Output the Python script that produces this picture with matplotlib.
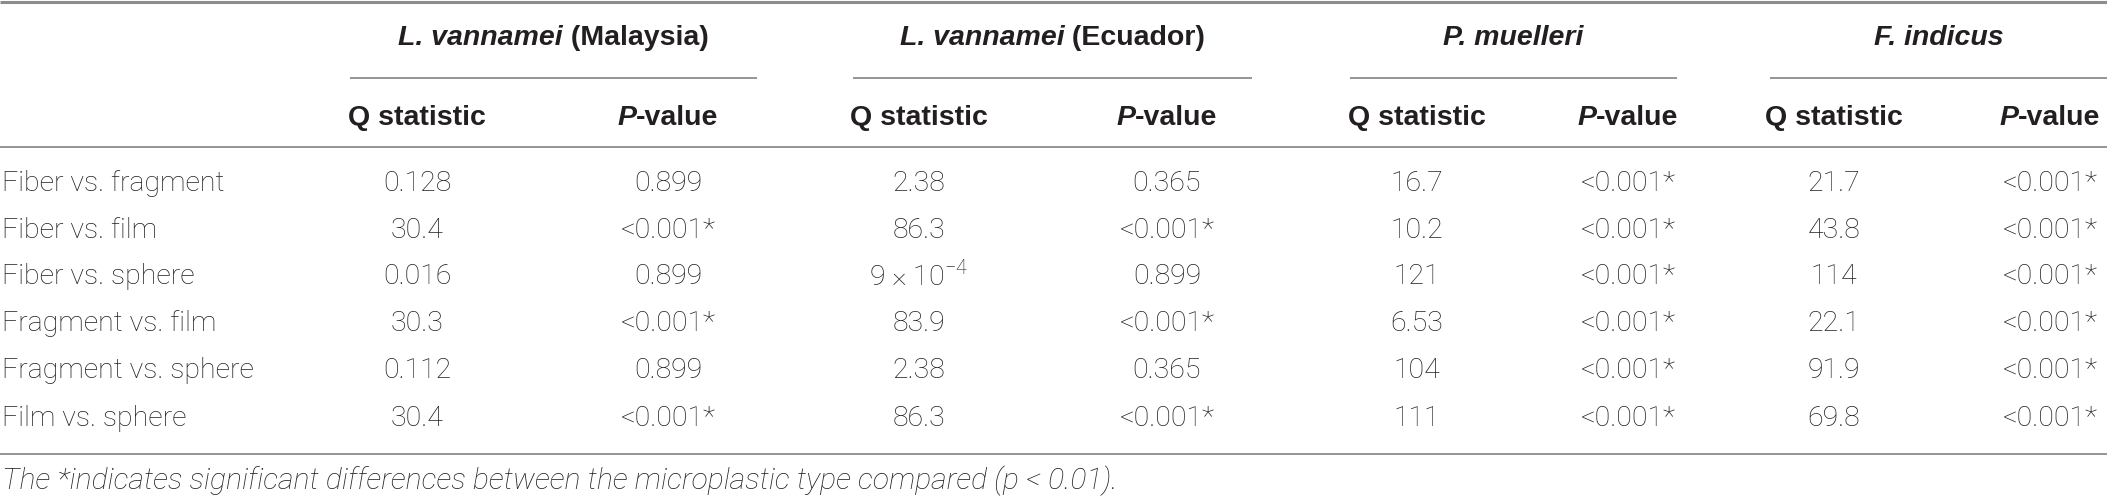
import matplotlib
matplotlib.use("Agg")
from matplotlib import pyplot as plt
from matplotlib import font_manager

comparisons = ["Fiber vs. fragment", "Fiber vs. film", "Fiber vs. sphere",
               "Fragment vs. film", "Fragment vs. sphere", "Film vs. sphere"]
species = ["L. vannamei", "L. vannamei", "P. muelleri", "F. indicus"]
origins = ["(Malaysia)", "(Ecuador)", "", ""]

q_malaysia = ["0.128", "30.4", "0.016", "30.3", "0.112", "30.4"]
p_malaysia = ["0.899", "<0.001*", "0.899", "<0.001*", "0.899", "<0.001*"]
q_ecuador = ["2.38", "86.3", r"9 $\times$ 10$^{\mathsf{-4}}$", "83.9", "2.38", "86.3"]
p_ecuador = ["0.365", "<0.001*", "0.899", "<0.001*", "0.365", "<0.001*"]
q_muelleri = ["16.7", "10.2", "121", "6.53", "104", "111"]
p_muelleri = ["<0.001*"] * 6
q_indicus = ["21.7", "43.8", "114", "22.1", "91.9", "69.8"]
p_indicus = ["<0.001*"] * 6

q_cols = [q_malaysia, q_ecuador, q_muelleri, q_indicus]
p_cols = [p_malaysia, p_ecuador, p_muelleri, p_indicus]

footnote = "The *indicates significant differences between the microplastic type compared (p < 0.01)."

# layout in pixels
W, H = 2107, 498
group_span = [(350, 757), (853, 1252), (1350, 1677), (1770, 2107)]
q_x = [417, 919, 1417, 1834]
p_x = [668, 1167, 1628, 2050]
row_y = [183, 230, 276, 323, 370, 418]

names = {f.name for f in font_manager.fontManager.ttflist}
body_font = "Roboto" if "Roboto" in names else "Liberation Sans"
head_font = "Liberation Sans"
text_col = "#231f20"
line_col = "#8c8c8c"
body_size = 20.5
head_size = 20.5

plt.rcParams["mathtext.fontset"] = "custom"
plt.rcParams["mathtext.rm"] = body_font + ":light"
plt.rcParams["mathtext.sf"] = body_font + ":light"

fig = plt.figure(figsize=(W / 100, H / 100), dpi=100)
ax = fig.add_axes([0, 0, 1, 1])
ax.set_xlim(0, W)
ax.set_ylim(H, 0)
ax.axis("off")
renderer = fig.canvas.get_renderer()


def rich_center(x, y, pieces, size):
    # draw several styled pieces side by side, centred on x
    objs = []
    for s, style in pieces:
        t = ax.text(0, y, s, fontsize=size, family=head_font, weight="bold",
                    style=style, va="center", ha="left", color=text_col)
        objs.append(t)
    widths = [o.get_window_extent(renderer).width for o in objs]
    start = x - sum(widths) / 2
    for o, w in zip(objs, widths):
        o.set_x(start)
        start += w


def hline(x0, x1, y, lw):
    ax.plot([x0, x1], [y, y], color=line_col, lw=lw, solid_capstyle="butt")


hline(0, W, 1.5, 2.2)
hline(0, W, 147, 1.3)
hline(0, W, 454, 1.3)

for (x0, x1), sp, orig in zip(group_span, species, origins):
    pieces = [(sp, "italic")]
    if orig:
        pieces.append((" " + orig, "normal"))
    rich_center((x0 + x1) / 2, 38, pieces, head_size)
    hline(x0, x1, 78, 1.3)

for qx, px in zip(q_x, p_x):
    rich_center(qx, 118, [("Q statistic", "normal")], head_size)
    rich_center(px, 118, [("P", "italic"), ("-value", "normal")], head_size)

for y, lab in zip(row_y, comparisons):
    ax.text(2, y, lab, fontsize=body_size, family=body_font, weight="light",
            va="center", ha="left", color=text_col)

for qx, px, qs, ps in zip(q_x, p_x, q_cols, p_cols):
    for y, qv, pv in zip(row_y, qs, ps):
        ax.text(qx, y, qv, fontsize=body_size, family=body_font, weight="light",
                va="center", ha="center", color=text_col)
        ax.text(px, y, pv, fontsize=body_size, family=body_font, weight="light",
                va="center", ha="center", color=text_col)

ax.text(2, 481, footnote, fontsize=21.7, family=body_font, weight="light",
        style="italic", va="center", ha="left", color=text_col)

fig.savefig("out.png", dpi=100)
